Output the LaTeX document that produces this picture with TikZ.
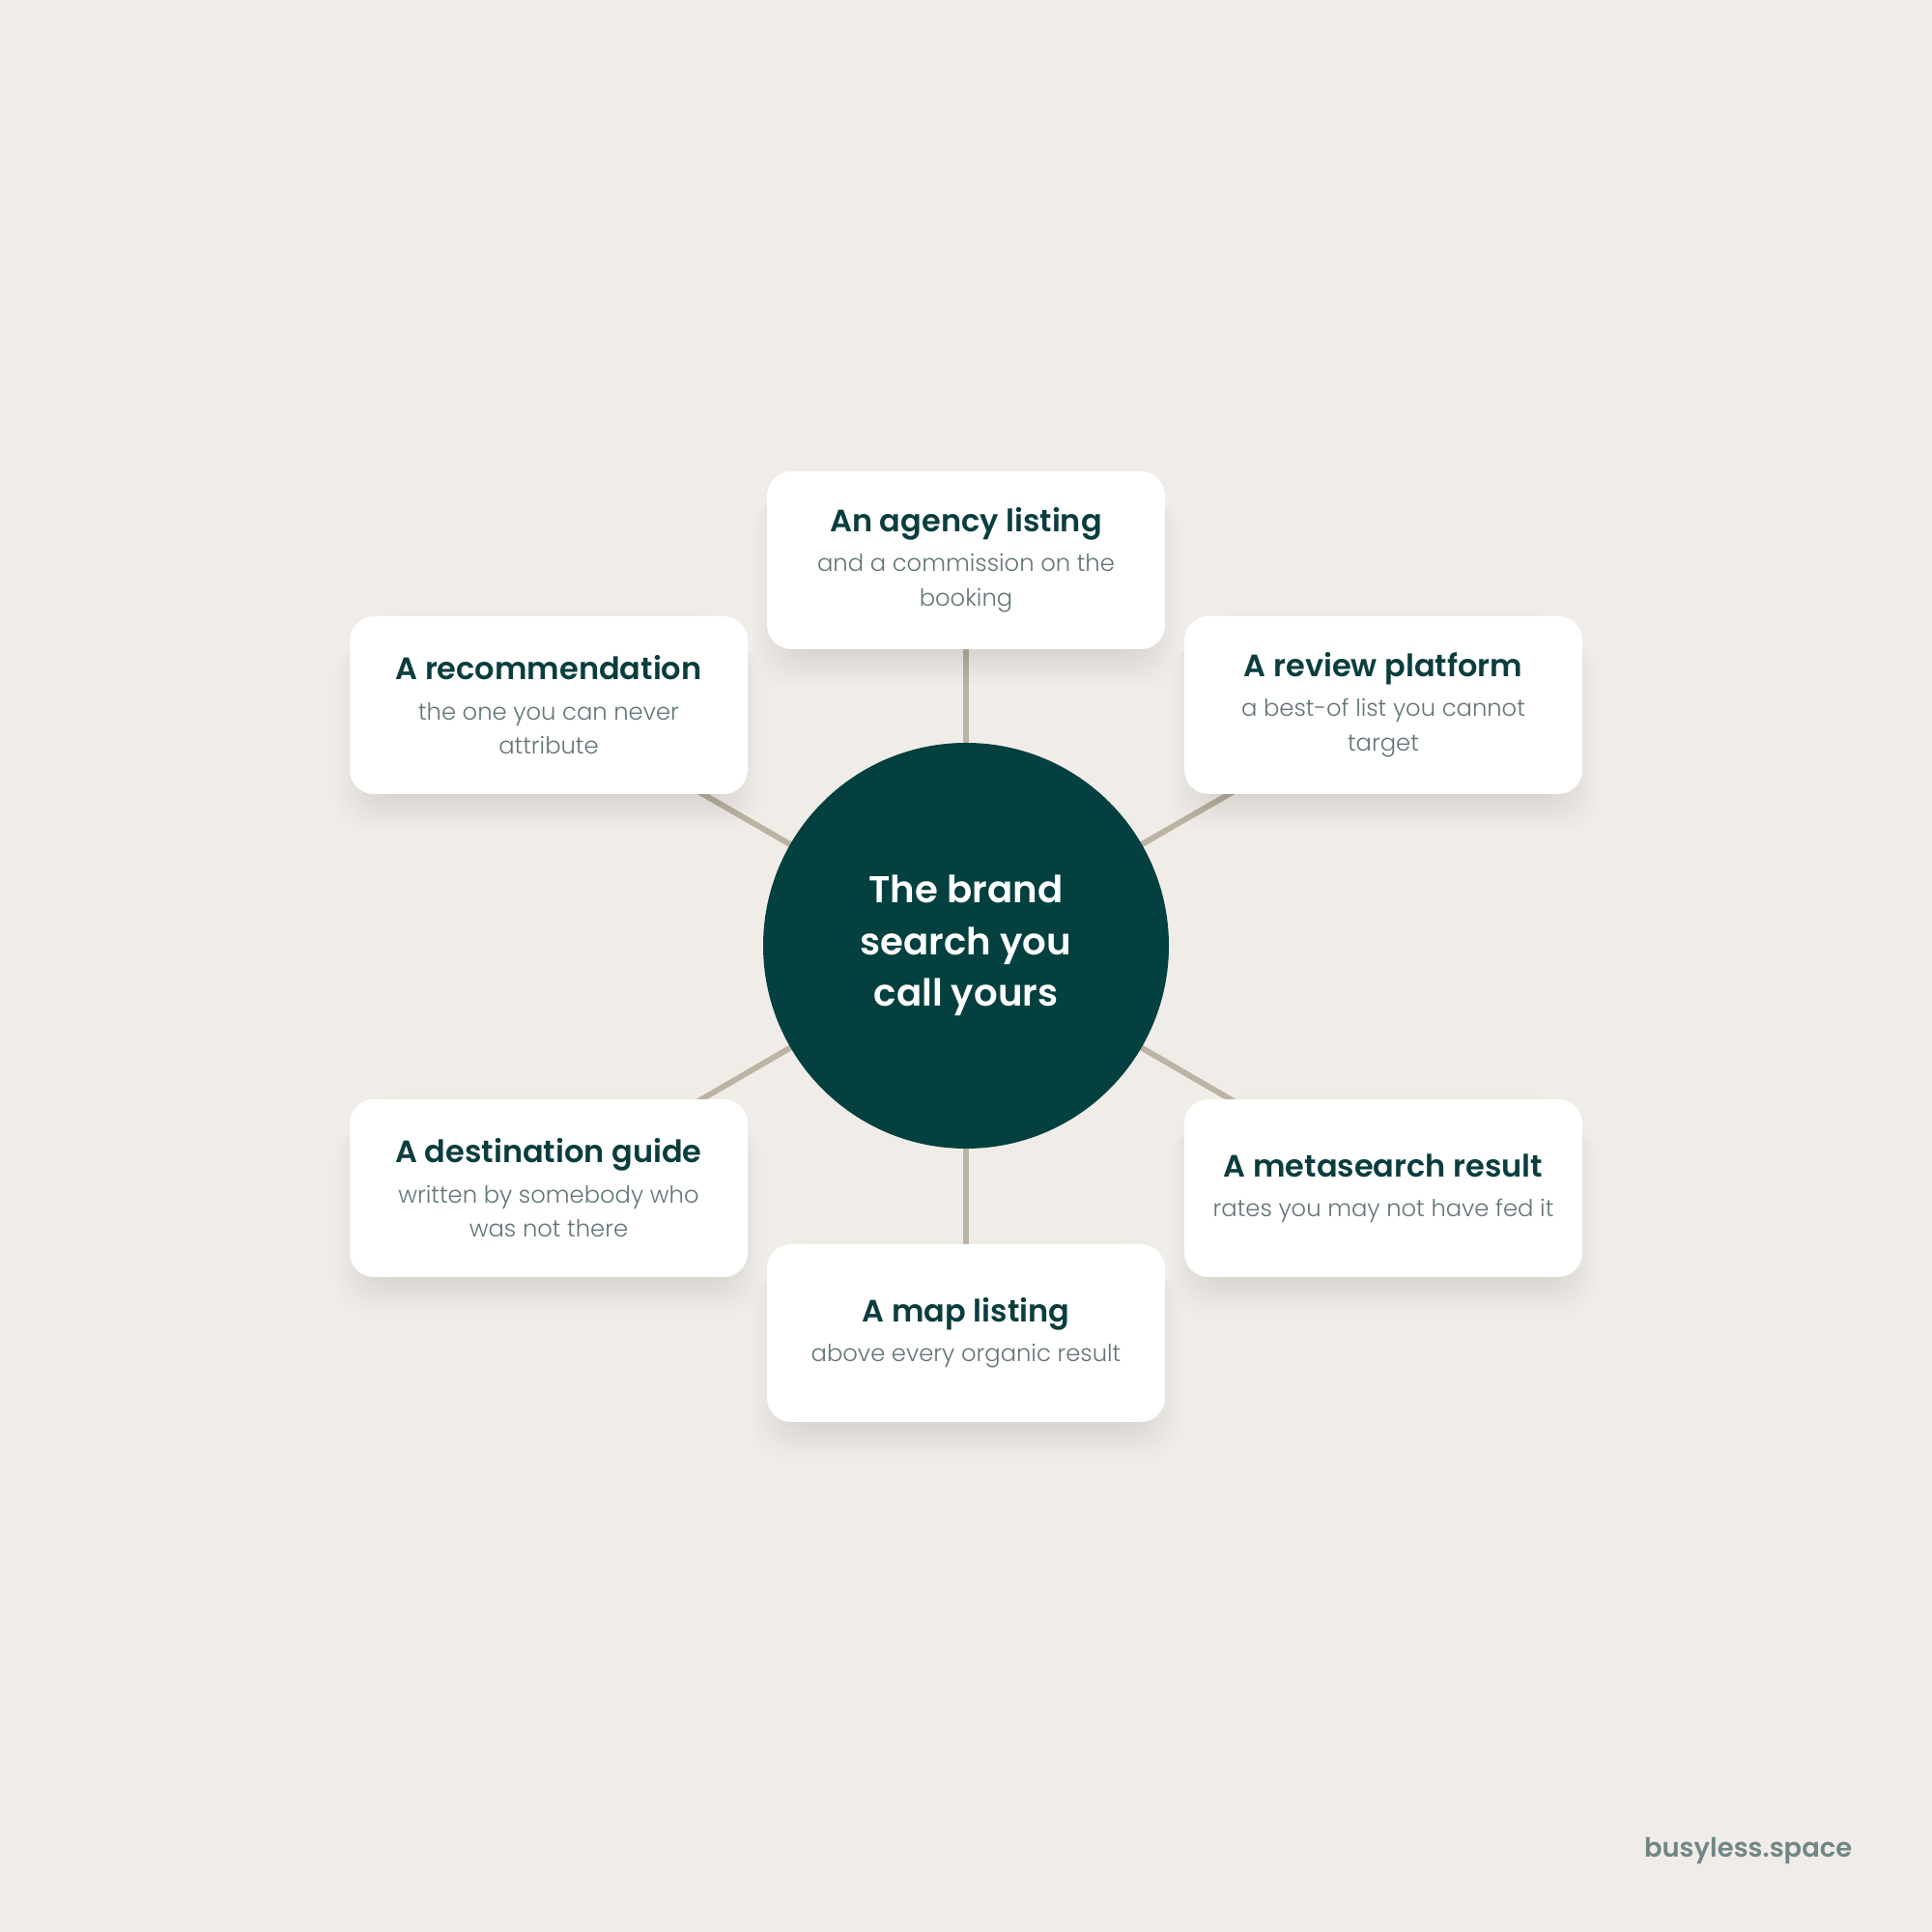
\documentclass[tikz,border=0pt]{standalone}
\usepackage{fontspec}
\setmainfont{Poppins}[UprightFont={* Light}, BoldFont={* SemiBold}]
\usepackage{tikz}
\usetikzlibrary{calc,positioning}
\definecolor{bgcol}{HTML}{F0EDE8}
\definecolor{hubcol}{HTML}{03403F}
\definecolor{titlecol}{HTML}{0A3D3E}
\definecolor{subcol}{HTML}{627577}
\definecolor{linecol}{HTML}{BDB3A4}
\definecolor{markcol}{HTML}{718787}
\pgfdeclarelayer{bg}
\pgfdeclarelayer{edges}
\pgfdeclarelayer{shade}
\pgfsetlayers{bg,edges,shade,main}
\tikzstyle{card} = [rectangle, rounded corners=0.25cm, fill=white,
                    minimum width=4.12cm, minimum height=1.84cm, align=center,
                    text=subcol, font=\fontsize{6.9}{10.2}\selectfont]
\tikzstyle{hub}  = [circle, fill=hubcol, minimum size=4.2cm, align=center,
                    text=white, font=\fontsize{11}{15.2}\selectfont\bfseries]
\tikzstyle{spoke} = [draw=linecol, line width=1.7pt]
\tikzstyle{soft} = [fill=black, opacity=0.007, rounded corners=0.35cm]
\newcommand{\cardtext}[2]{\fontsize{9.1}{12.7}\selectfont\bfseries\color{titlecol}#1\\[1.5pt]#2}

\begin{document}
\begin{tikzpicture}
    \begin{pgfonlayer}{bg}
        \fill[bgcol] (0,0) rectangle (20,20);
    \end{pgfonlayer}
    \useasboundingbox (0,0) rectangle (20,20);

    \node[hub] (brand) at (10,10.21) {The brand\\search you\\call yours};

    \node[card] (agency) at (10,14.2) {\cardtext{An agency listing}{and a commission on the\\booking}};
    \node[card] (recommend) at (5.68,12.7) {\cardtext{A recommendation}{the one you can never\\attribute}};
    \node[card] (review) at (14.32,12.7) {\cardtext{A review platform}{a best-of list you cannot\\target}};
    \node[card] (guide) at (5.68,7.7) {\cardtext{A destination guide}{written by somebody who\\was not there}};
    \node[card] (metasearch) at (14.32,7.7) {\cardtext{A metasearch result}{rates you may not have fed it}};
    \node[card] (maplisting) at (10,6.2) {\cardtext{A map listing}{above every organic result}};

    \begin{pgfonlayer}{edges}
        \foreach \n in {agency,recommend,review,guide,metasearch,maplisting}
            \draw[spoke] (brand.center) -- (\n.center);
    \end{pgfonlayer}

    % soft shadow under the cards
    \begin{pgfonlayer}{shade}
        \foreach \n in {agency,recommend,review,guide,metasearch,maplisting}
            \foreach \d in {0.02,0.05,0.08,0.11,0.14,0.17,0.2,0.23,0.26,0.3,0.34}
                \fill[soft] ($(\n.south west)+(0.2-\d,-\d-0.03)$) rectangle ($(\n.north east)+(\d-0.2,0.05-\d)$);
    \end{pgfonlayer}

    \node[anchor=east, inner sep=0pt, text=markcol, font=\fontsize{7.8}{10}\selectfont\bfseries] (mark) at (19.18,0.84) {busyless.space};
\end{tikzpicture}
\end{document}
